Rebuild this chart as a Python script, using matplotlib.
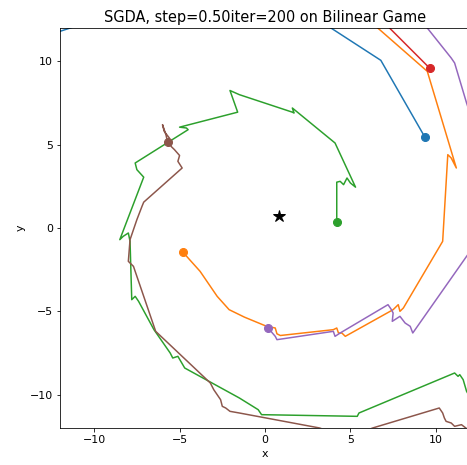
import matplotlib
matplotlib.use('Agg')
import matplotlib.pyplot as plt

# Trajectories (first point = start dot)
blue_x = [9.36, 6.78, 3.86, 1.0, -5.0, -9.0, -12.6]
blue_y = [5.45, 10.06, 12.0, 13.6, 14.5, 12.8, 11.6]

orange_x = [-4.8, -4.5, -3.8, -2.8, -2.1, -1.2, 0.1, 0.6, 0.7, 0.9, 4.0, 4.2, 4.3, 4.5, 4.7,
            7.5, 7.8, 7.9, 8.1, 10.4, 10.7, 10.9, 11.2, 9.5, 6.6, 5.5]
orange_y = [-1.45, -1.8, -2.6, -4.1, -4.9, -5.35, -5.9, -6.0, -6.35, -6.45, -6.1, -6.0, -6.3, -6.3, -6.5,
            -4.9, -4.6, -5.0, -4.8, -0.8, 4.4, 4.2, 3.6, 9.4, 12.0, 13.0]

green_x = [4.2, 4.2, 4.4, 4.6, 4.8, 5.0, 5.3, 4.1, 1.6, 1.7, 1.6, -1.5, -2.05, -1.6, -5.0, -4.6, -4.5,
           -7.6, -7.5, -7.1, -8.5, -8.3, -8.0, -7.9, -7.8, -7.6, -7.4, -6.5, -5.55, -5.4, -5.1, -4.7,
           -1.5, -0.4, -0.2, 5.4, 5.5, 11.1, 11.3, 11.4, 11.6, 11.8, 12.2]
green_y = [0.36, 2.75, 2.8, 2.6, 3.0, 2.7, 2.45, 5.1, 7.2, 6.9, 6.95, 8.0, 8.25, 6.95, 6.05, 6.0, 5.9,
           3.9, 3.5, 3.05, -0.7, -0.5, -0.3, -0.8, -4.3, -4.1, -4.4, -6.1, -7.5, -7.8, -7.7, -8.4,
           -10.2, -10.9, -11.2, -11.3, -11.1, -8.7, -8.9, -8.8, -9.1, -9.8, -10.5]

red_x = [9.65, 7.25, 6.2]
red_y = [9.58, 12.04, 13.2]

purple_x = [0.18, 0.6, 0.7, 4.0, 4.1, 4.4, 7.2, 7.4, 7.5, 7.45, 7.9, 8.2, 8.5, 8.65, 11.8, 13.2,
            12.6, 11.8, 11.1, 10.9, 9.5, 8.5]
purple_y = [-6.0, -6.5, -6.7, -6.2, -6.5, -6.3, -4.6, -4.9, -5.1, -5.6, -5.3, -5.7, -5.9, -6.3, -1.7, 0.3,
            5.0, 7.5, 9.9, 10.2, 12.0, 13.0]

brown_x = [-5.7, -5.8, -6.0, -5.9, -5.6, -5.5, -5.3, -5.0, -5.1, -4.85, -7.1, -7.2, -7.5, -7.9,
           -8.0, -7.7, -6.4, -3.2, -3.0, -2.6, -2.5, -2.3, -2.05, -1.5, 3.2, 4.8, 6.3, 10.2, 10.4,
           10.5, 10.6, 10.9, 11.1, 11.5, 12.4]
brown_y = [5.15, 5.6, 6.2, 5.8, 5.4, 4.9, 4.7, 4.35, 4.0, 3.6, 1.55, 1.3, 0.5, -0.7,
           -2.0, -2.3, -6.2, -9.3, -9.7, -10.3, -10.7, -10.8, -11.0, -11.1, -12.0, -12.6, -12.0, -10.8, -11.1,
           -11.4, -11.6, -11.7, -11.9, -11.8, -12.5]

star_x, star_y = 0.84, 0.72

fig = plt.figure(figsize=(467/72, 465/72), dpi=72)
ax = fig.add_axes([60/467, 37/465, 410/467, 400/465])

trajs = [(blue_x, blue_y, 'C0'), (orange_x, orange_y, 'C1'), (green_x, green_y, 'C2'),
         (red_x, red_y, 'C3'), (purple_x, purple_y, 'C4'), (brown_x, brown_y, 'C5')]
for xs, ys, c in trajs:
    ax.plot(xs, ys, color=c, lw=1.5)
    ax.plot(xs[0], ys[0], 'o', color=c, markersize=8)

ax.plot(star_x, star_y, 'k*', markersize=12)

ax.set_xlim(-12, 12)
ax.set_ylim(-12, 12)
ax.set_xticks([-10, -5, 0, 5, 10])
ax.set_yticks([-10, -5, 0, 5, 10])
ax.tick_params(labelsize=11)
ax.set_xlabel('x', fontsize=11)
ax.set_ylabel('y', fontsize=11)
ax.set_title('SGDA, step=0.50iter=200 on Bilinear Game', fontsize=14.5)
fig.savefig('out.png', dpi=72)
